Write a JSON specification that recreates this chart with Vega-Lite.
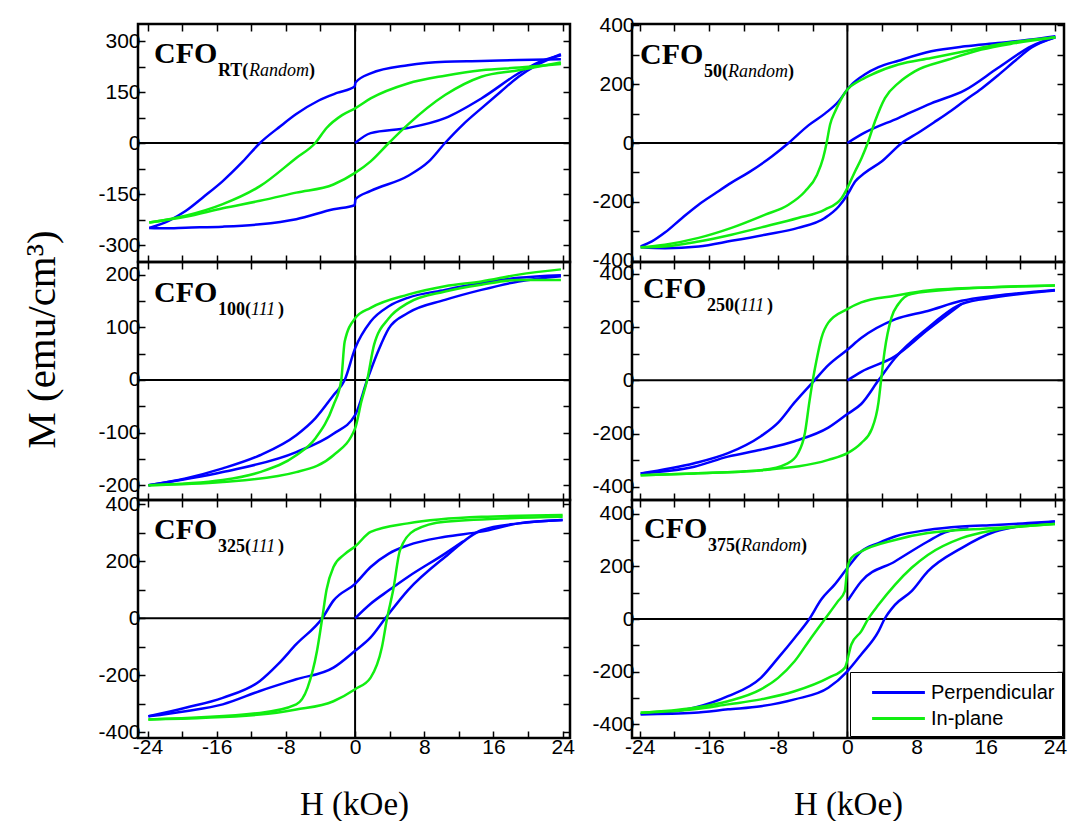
{
"$schema": "https://vega.github.io/schema/vega-lite/v6.json",
"padding": {"left": 19, "top": 13, "right": 2, "bottom": 5},
"background": "white",
"datasets": {
"d": [
{"p":1,"s":"Perpendicular","b":"d","H":23.8,"M":246},{"p":1,"s":"Perpendicular","b":"d","H":18.9,"M":244},{"p":1,"s":"Perpendicular","b":"d","H":14.6,"M":241},{"p":1,"s":"Perpendicular","b":"d","H":10.4,"M":239},{"p":1,"s":"Perpendicular","b":"d","H":6.1,"M":229},{"p":1,"s":"Perpendicular","b":"d","H":1.8,"M":205},{"p":1,"s":"Perpendicular","b":"d","H":0.05,"M":178},{"p":1,"s":"Perpendicular","b":"d","H":-0.05,"M":166},{"p":1,"s":"Perpendicular","b":"d","H":-2,"M":148},{"p":1,"s":"Perpendicular","b":"d","H":-4.2,"M":125},{"p":1,"s":"Perpendicular","b":"d","H":-6.8,"M":85},{"p":1,"s":"Perpendicular","b":"d","H":-8.6,"M":50},{"p":1,"s":"Perpendicular","b":"d","H":-11,"M":0},{"p":1,"s":"Perpendicular","b":"d","H":-13,"M":-55},{"p":1,"s":"Perpendicular","b":"d","H":-15.3,"M":-112},{"p":1,"s":"Perpendicular","b":"d","H":-17.5,"M":-158},{"p":1,"s":"Perpendicular","b":"d","H":-19.6,"M":-200},{"p":1,"s":"Perpendicular","b":"d","H":-21.5,"M":-228},{"p":1,"s":"Perpendicular","b":"d","H":-23.8,"M":-250},
{"p":1,"s":"Perpendicular","b":"a","H":-23.8,"M":-250},{"p":1,"s":"Perpendicular","b":"a","H":-22,"M":-251},{"p":1,"s":"Perpendicular","b":"a","H":-19.6,"M":-249},{"p":1,"s":"Perpendicular","b":"a","H":-15.3,"M":-246},{"p":1,"s":"Perpendicular","b":"a","H":-11,"M":-239},{"p":1,"s":"Perpendicular","b":"a","H":-6.8,"M":-224},{"p":1,"s":"Perpendicular","b":"a","H":-2.5,"M":-195},{"p":1,"s":"Perpendicular","b":"a","H":-0.05,"M":-183},{"p":1,"s":"Perpendicular","b":"a","H":0.05,"M":-165},{"p":1,"s":"Perpendicular","b":"a","H":1.8,"M":-141},{"p":1,"s":"Perpendicular","b":"a","H":6.1,"M":-97},{"p":1,"s":"Perpendicular","b":"a","H":8.5,"M":-55},{"p":1,"s":"Perpendicular","b":"a","H":10.4,"M":0},{"p":1,"s":"Perpendicular","b":"a","H":12.5,"M":55},{"p":1,"s":"Perpendicular","b":"a","H":14.6,"M":102},{"p":1,"s":"Perpendicular","b":"a","H":16.8,"M":150},{"p":1,"s":"Perpendicular","b":"a","H":18.9,"M":195},{"p":1,"s":"Perpendicular","b":"a","H":21,"M":229},{"p":1,"s":"Perpendicular","b":"a","H":23.8,"M":261},
{"p":1,"s":"Perpendicular","b":"v","H":0,"M":0},{"p":1,"s":"Perpendicular","b":"v","H":1.8,"M":29},{"p":1,"s":"Perpendicular","b":"v","H":6.1,"M":44},{"p":1,"s":"Perpendicular","b":"v","H":10.4,"M":73},{"p":1,"s":"Perpendicular","b":"v","H":14.6,"M":131},{"p":1,"s":"Perpendicular","b":"v","H":18.9,"M":205},{"p":1,"s":"Perpendicular","b":"v","H":21,"M":235},{"p":1,"s":"Perpendicular","b":"v","H":23.8,"M":258},
{"p":1,"s":"In-plane","b":"d","H":23.8,"M":232},{"p":1,"s":"In-plane","b":"d","H":19,"M":222},{"p":1,"s":"In-plane","b":"d","H":14.6,"M":214},{"p":1,"s":"In-plane","b":"d","H":10.4,"M":198},{"p":1,"s":"In-plane","b":"d","H":6.1,"M":175},{"p":1,"s":"In-plane","b":"d","H":1.8,"M":131},{"p":1,"s":"In-plane","b":"d","H":0,"M":102},{"p":1,"s":"In-plane","b":"d","H":-1.5,"M":82},{"p":1,"s":"In-plane","b":"d","H":-3.3,"M":44},{"p":1,"s":"In-plane","b":"d","H":-4.6,"M":0},{"p":1,"s":"In-plane","b":"d","H":-6.8,"M":-44},{"p":1,"s":"In-plane","b":"d","H":-11,"M":-127},{"p":1,"s":"In-plane","b":"d","H":-15.3,"M":-180},{"p":1,"s":"In-plane","b":"d","H":-19.6,"M":-214},{"p":1,"s":"In-plane","b":"d","H":-23.8,"M":-234},
{"p":1,"s":"In-plane","b":"a","H":-23.8,"M":-234},{"p":1,"s":"In-plane","b":"a","H":-19.6,"M":-217},{"p":1,"s":"In-plane","b":"a","H":-15.3,"M":-192},{"p":1,"s":"In-plane","b":"a","H":-11,"M":-170},{"p":1,"s":"In-plane","b":"a","H":-6.8,"M":-146},{"p":1,"s":"In-plane","b":"a","H":-2.5,"M":-122},{"p":1,"s":"In-plane","b":"a","H":0,"M":-88},{"p":1,"s":"In-plane","b":"a","H":1.8,"M":-54},{"p":1,"s":"In-plane","b":"a","H":3.9,"M":0},{"p":1,"s":"In-plane","b":"a","H":6.1,"M":54},{"p":1,"s":"In-plane","b":"a","H":10.4,"M":141},{"p":1,"s":"In-plane","b":"a","H":14.6,"M":195},{"p":1,"s":"In-plane","b":"a","H":18.9,"M":214},{"p":1,"s":"In-plane","b":"a","H":23.8,"M":237},

{"p":2,"s":"Perpendicular","b":"d","H":24.06,"M":363},{"p":2,"s":"Perpendicular","b":"d","H":21.3,"M":352},{"p":2,"s":"Perpendicular","b":"d","H":17.4,"M":340},{"p":2,"s":"Perpendicular","b":"d","H":13.6,"M":329},{"p":2,"s":"Perpendicular","b":"d","H":9.7,"M":312},{"p":2,"s":"Perpendicular","b":"d","H":5.9,"M":280},{"p":2,"s":"Perpendicular","b":"d","H":3.6,"M":258},{"p":2,"s":"Perpendicular","b":"d","H":2,"M":233},{"p":2,"s":"Perpendicular","b":"d","H":0.5,"M":199},{"p":2,"s":"Perpendicular","b":"d","H":0,"M":182},{"p":2,"s":"Perpendicular","b":"d","H":-1,"M":142},{"p":2,"s":"Perpendicular","b":"d","H":-2.6,"M":100},{"p":2,"s":"Perpendicular","b":"d","H":-4.5,"M":60},{"p":2,"s":"Perpendicular","b":"d","H":-6.8,"M":0},{"p":2,"s":"Perpendicular","b":"d","H":-8.7,"M":-45},{"p":2,"s":"Perpendicular","b":"d","H":-11.4,"M":-100},{"p":2,"s":"Perpendicular","b":"d","H":-13.4,"M":-135},{"p":2,"s":"Perpendicular","b":"d","H":-15.3,"M":-172},{"p":2,"s":"Perpendicular","b":"d","H":-17.2,"M":-210},{"p":2,"s":"Perpendicular","b":"d","H":-19.1,"M":-255},{"p":2,"s":"Perpendicular","b":"d","H":-21.1,"M":-305},{"p":2,"s":"Perpendicular","b":"d","H":-22.6,"M":-335},{"p":2,"s":"Perpendicular","b":"d","H":-23.9,"M":-352},
{"p":2,"s":"Perpendicular","b":"a","H":-23.9,"M":-355},{"p":2,"s":"Perpendicular","b":"a","H":-21.1,"M":-358},{"p":2,"s":"Perpendicular","b":"a","H":-17.2,"M":-352},{"p":2,"s":"Perpendicular","b":"a","H":-13.4,"M":-333},{"p":2,"s":"Perpendicular","b":"a","H":-9.5,"M":-312},{"p":2,"s":"Perpendicular","b":"a","H":-5.7,"M":-289},{"p":2,"s":"Perpendicular","b":"a","H":-2.6,"M":-255},{"p":2,"s":"Perpendicular","b":"a","H":-1,"M":-216},{"p":2,"s":"Perpendicular","b":"a","H":0,"M":-176},{"p":2,"s":"Perpendicular","b":"a","H":0.9,"M":-131},{"p":2,"s":"Perpendicular","b":"a","H":2,"M":-102},{"p":2,"s":"Perpendicular","b":"a","H":4,"M":-62},{"p":2,"s":"Perpendicular","b":"a","H":6.3,"M":0},{"p":2,"s":"Perpendicular","b":"a","H":8.2,"M":35},{"p":2,"s":"Perpendicular","b":"a","H":10,"M":70},{"p":2,"s":"Perpendicular","b":"a","H":12,"M":110},{"p":2,"s":"Perpendicular","b":"a","H":13.6,"M":145},{"p":2,"s":"Perpendicular","b":"a","H":15.5,"M":185},{"p":2,"s":"Perpendicular","b":"a","H":17.4,"M":230},{"p":2,"s":"Perpendicular","b":"a","H":19.4,"M":280},{"p":2,"s":"Perpendicular","b":"a","H":21.3,"M":325},{"p":2,"s":"Perpendicular","b":"a","H":24.06,"M":360},
{"p":2,"s":"Perpendicular","b":"v","H":0,"M":0},{"p":2,"s":"Perpendicular","b":"v","H":2,"M":35},{"p":2,"s":"Perpendicular","b":"v","H":5.9,"M":85},{"p":2,"s":"Perpendicular","b":"v","H":9.7,"M":135},{"p":2,"s":"Perpendicular","b":"v","H":13.6,"M":180},{"p":2,"s":"Perpendicular","b":"v","H":17.4,"M":255},{"p":2,"s":"Perpendicular","b":"v","H":21.3,"M":330},{"p":2,"s":"Perpendicular","b":"v","H":24,"M":360},
{"p":2,"s":"In-plane","b":"d","H":24.06,"M":360},{"p":2,"s":"In-plane","b":"d","H":17.4,"M":335},{"p":2,"s":"In-plane","b":"d","H":13.6,"M":312},{"p":2,"s":"In-plane","b":"d","H":9.7,"M":289},{"p":2,"s":"In-plane","b":"d","H":5.9,"M":267},{"p":2,"s":"In-plane","b":"d","H":2.8,"M":233},{"p":2,"s":"In-plane","b":"d","H":1.3,"M":210},{"p":2,"s":"In-plane","b":"d","H":0,"M":182},{"p":2,"s":"In-plane","b":"d","H":-0.65,"M":153},{"p":2,"s":"In-plane","b":"d","H":-1.4,"M":108},{"p":2,"s":"In-plane","b":"d","H":-2,"M":62},{"p":2,"s":"In-plane","b":"d","H":-2.4,"M":0},{"p":2,"s":"In-plane","b":"d","H":-2.8,"M":-51},{"p":2,"s":"In-plane","b":"d","H":-3.5,"M":-108},{"p":2,"s":"In-plane","b":"d","H":-4.9,"M":-165},{"p":2,"s":"In-plane","b":"d","H":-6.8,"M":-210},{"p":2,"s":"In-plane","b":"d","H":-9.5,"M":-244},{"p":2,"s":"In-plane","b":"d","H":-13.4,"M":-289},{"p":2,"s":"In-plane","b":"d","H":-17.2,"M":-323},{"p":2,"s":"In-plane","b":"d","H":-21.1,"M":-346},{"p":2,"s":"In-plane","b":"d","H":-23.9,"M":-355},
{"p":2,"s":"In-plane","b":"a","H":-23.9,"M":-355},{"p":2,"s":"In-plane","b":"a","H":-21.1,"M":-352},{"p":2,"s":"In-plane","b":"a","H":-17.2,"M":-335},{"p":2,"s":"In-plane","b":"a","H":-13.4,"M":-312},{"p":2,"s":"In-plane","b":"a","H":-9.5,"M":-284},{"p":2,"s":"In-plane","b":"a","H":-5.7,"M":-255},{"p":2,"s":"In-plane","b":"a","H":-2.6,"M":-227},{"p":2,"s":"In-plane","b":"a","H":-0.65,"M":-187},{"p":2,"s":"In-plane","b":"a","H":0,"M":-153},{"p":2,"s":"In-plane","b":"a","H":0.9,"M":-96},{"p":2,"s":"In-plane","b":"a","H":1.65,"M":-51},{"p":2,"s":"In-plane","b":"a","H":2.35,"M":0},{"p":2,"s":"In-plane","b":"a","H":3.2,"M":74},{"p":2,"s":"In-plane","b":"a","H":4.35,"M":153},{"p":2,"s":"In-plane","b":"a","H":5.9,"M":204},{"p":2,"s":"In-plane","b":"a","H":7.8,"M":244},{"p":2,"s":"In-plane","b":"a","H":11.7,"M":284},{"p":2,"s":"In-plane","b":"a","H":15.5,"M":318},{"p":2,"s":"In-plane","b":"a","H":19.4,"M":340},{"p":2,"s":"In-plane","b":"a","H":24.06,"M":360},

{"p":3,"s":"Perpendicular","b":"d","H":23.8,"M":199},{"p":3,"s":"Perpendicular","b":"d","H":18.9,"M":194},{"p":3,"s":"Perpendicular","b":"d","H":14.6,"M":184},{"p":3,"s":"Perpendicular","b":"d","H":10.4,"M":171},{"p":3,"s":"Perpendicular","b":"d","H":6.1,"M":156},{"p":3,"s":"Perpendicular","b":"d","H":3.9,"M":140},{"p":3,"s":"Perpendicular","b":"d","H":1.8,"M":111},{"p":3,"s":"Perpendicular","b":"d","H":0,"M":60},{"p":3,"s":"Perpendicular","b":"d","H":-1.2,"M":0},{"p":3,"s":"Perpendicular","b":"d","H":-2.5,"M":-29},{"p":3,"s":"Perpendicular","b":"d","H":-4.6,"M":-73},{"p":3,"s":"Perpendicular","b":"d","H":-6.8,"M":-105},{"p":3,"s":"Perpendicular","b":"d","H":-11,"M":-143},{"p":3,"s":"Perpendicular","b":"d","H":-15.3,"M":-168},{"p":3,"s":"Perpendicular","b":"d","H":-19.6,"M":-187},{"p":3,"s":"Perpendicular","b":"d","H":-23.9,"M":-200},
{"p":3,"s":"Perpendicular","b":"a","H":-23.9,"M":-200},{"p":3,"s":"Perpendicular","b":"a","H":-15.3,"M":-175},{"p":3,"s":"Perpendicular","b":"a","H":-6.8,"M":-137},{"p":3,"s":"Perpendicular","b":"a","H":-2.5,"M":-102},{"p":3,"s":"Perpendicular","b":"a","H":0,"M":-67},{"p":3,"s":"Perpendicular","b":"a","H":1.4,"M":0},{"p":3,"s":"Perpendicular","b":"a","H":2.65,"M":54},{"p":3,"s":"Perpendicular","b":"a","H":3.9,"M":98},{"p":3,"s":"Perpendicular","b":"a","H":6.1,"M":127},{"p":3,"s":"Perpendicular","b":"a","H":10.4,"M":152},{"p":3,"s":"Perpendicular","b":"a","H":14.6,"M":171},{"p":3,"s":"Perpendicular","b":"a","H":18.9,"M":187},{"p":3,"s":"Perpendicular","b":"a","H":23.8,"M":197},
{"p":3,"s":"In-plane","b":"d","H":23.8,"M":210},{"p":3,"s":"In-plane","b":"d","H":18.9,"M":200},{"p":3,"s":"In-plane","b":"d","H":14.6,"M":187},{"p":3,"s":"In-plane","b":"d","H":10.4,"M":178},{"p":3,"s":"In-plane","b":"d","H":6.1,"M":162},{"p":3,"s":"In-plane","b":"d","H":1.8,"M":137},{"p":3,"s":"In-plane","b":"d","H":0,"M":117},{"p":3,"s":"In-plane","b":"d","H":-1.2,"M":73},{"p":3,"s":"In-plane","b":"d","H":-1.6,"M":0},{"p":3,"s":"In-plane","b":"d","H":-2.5,"M":-48},{"p":3,"s":"In-plane","b":"d","H":-4.6,"M":-111},{"p":3,"s":"In-plane","b":"d","H":-6.8,"M":-143},{"p":3,"s":"In-plane","b":"d","H":-11,"M":-175},{"p":3,"s":"In-plane","b":"d","H":-15.3,"M":-190},{"p":3,"s":"In-plane","b":"d","H":-23.9,"M":-200},
{"p":3,"s":"In-plane","b":"a","H":-23.9,"M":-200},{"p":3,"s":"In-plane","b":"a","H":-15.3,"M":-194},{"p":3,"s":"In-plane","b":"a","H":-6.8,"M":-175},{"p":3,"s":"In-plane","b":"a","H":-2.5,"M":-143},{"p":3,"s":"In-plane","b":"a","H":0,"M":-92},{"p":3,"s":"In-plane","b":"a","H":0.73,"M":-41},{"p":3,"s":"In-plane","b":"a","H":1.4,"M":0},{"p":3,"s":"In-plane","b":"a","H":2.2,"M":67},{"p":3,"s":"In-plane","b":"a","H":3.9,"M":117},{"p":3,"s":"In-plane","b":"a","H":6.1,"M":146},{"p":3,"s":"In-plane","b":"a","H":10.4,"M":168},{"p":3,"s":"In-plane","b":"a","H":14.6,"M":181},{"p":3,"s":"In-plane","b":"a","H":18.9,"M":190},{"p":3,"s":"In-plane","b":"a","H":23.8,"M":190},

{"p":4,"s":"Perpendicular","b":"d","H":24,"M":340},{"p":4,"s":"Perpendicular","b":"d","H":17.1,"M":318},{"p":4,"s":"Perpendicular","b":"d","H":13.2,"M":299},{"p":4,"s":"Perpendicular","b":"d","H":9.3,"M":261},{"p":4,"s":"Perpendicular","b":"d","H":5.5,"M":229},{"p":4,"s":"Perpendicular","b":"d","H":1.6,"M":159},{"p":4,"s":"Perpendicular","b":"d","H":0,"M":115},{"p":4,"s":"Perpendicular","b":"d","H":-2.2,"M":57},{"p":4,"s":"Perpendicular","b":"d","H":-3.8,"M":0},{"p":4,"s":"Perpendicular","b":"d","H":-6.1,"M":-83},{"p":4,"s":"Perpendicular","b":"d","H":-8,"M":-159},{"p":4,"s":"Perpendicular","b":"d","H":-10,"M":-210},{"p":4,"s":"Perpendicular","b":"d","H":-13.8,"M":-274},{"p":4,"s":"Perpendicular","b":"d","H":-17.7,"M":-312},{"p":4,"s":"Perpendicular","b":"d","H":-23.9,"M":-350},
{"p":4,"s":"Perpendicular","b":"a","H":-23.9,"M":-350},{"p":4,"s":"Perpendicular","b":"a","H":-17.7,"M":-325},{"p":4,"s":"Perpendicular","b":"a","H":-13.8,"M":-287},{"p":4,"s":"Perpendicular","b":"a","H":-10,"M":-261},{"p":4,"s":"Perpendicular","b":"a","H":-6.1,"M":-229},{"p":4,"s":"Perpendicular","b":"a","H":-2.2,"M":-178},{"p":4,"s":"Perpendicular","b":"a","H":0,"M":-127},{"p":4,"s":"Perpendicular","b":"a","H":1.6,"M":-89},{"p":4,"s":"Perpendicular","b":"a","H":3.6,"M":0},{"p":4,"s":"Perpendicular","b":"a","H":5.5,"M":83},{"p":4,"s":"Perpendicular","b":"a","H":9.3,"M":197},{"p":4,"s":"Perpendicular","b":"a","H":13.2,"M":287},{"p":4,"s":"Perpendicular","b":"a","H":17.1,"M":312},{"p":4,"s":"Perpendicular","b":"a","H":24,"M":338},
{"p":4,"s":"Perpendicular","b":"v","H":0,"M":0},{"p":4,"s":"Perpendicular","b":"v","H":1.6,"M":32},{"p":4,"s":"Perpendicular","b":"v","H":5.5,"M":90},{"p":4,"s":"Perpendicular","b":"v","H":9.3,"M":190},{"p":4,"s":"Perpendicular","b":"v","H":13.2,"M":287},
{"p":4,"s":"In-plane","b":"d","H":24,"M":357},{"p":4,"s":"In-plane","b":"d","H":17.1,"M":350},{"p":4,"s":"In-plane","b":"d","H":9.3,"M":338},{"p":4,"s":"In-plane","b":"d","H":5.5,"M":318},{"p":4,"s":"In-plane","b":"d","H":1.6,"M":293},{"p":4,"s":"In-plane","b":"d","H":0,"M":268},{"p":4,"s":"In-plane","b":"d","H":-2.2,"M":217},{"p":4,"s":"In-plane","b":"d","H":-3,"M":159},{"p":4,"s":"In-plane","b":"d","H":-3.6,"M":70},{"p":4,"s":"In-plane","b":"d","H":-4,"M":0},{"p":4,"s":"In-plane","b":"d","H":-4.4,"M":-83},{"p":4,"s":"In-plane","b":"d","H":-4.9,"M":-197},{"p":4,"s":"In-plane","b":"d","H":-5.7,"M":-274},{"p":4,"s":"In-plane","b":"d","H":-6.9,"M":-312},{"p":4,"s":"In-plane","b":"d","H":-10,"M":-338},{"p":4,"s":"In-plane","b":"d","H":-17.7,"M":-350},{"p":4,"s":"In-plane","b":"d","H":-23.9,"M":-357},
{"p":4,"s":"In-plane","b":"a","H":-23.9,"M":-357},{"p":4,"s":"In-plane","b":"a","H":-17.7,"M":-350},{"p":4,"s":"In-plane","b":"a","H":-10,"M":-338},{"p":4,"s":"In-plane","b":"a","H":-2.2,"M":-299},{"p":4,"s":"In-plane","b":"a","H":0,"M":-274},{"p":4,"s":"In-plane","b":"a","H":1.6,"M":-236},{"p":4,"s":"In-plane","b":"a","H":2.8,"M":-185},{"p":4,"s":"In-plane","b":"a","H":3.6,"M":-83},{"p":4,"s":"In-plane","b":"a","H":3.9,"M":0},{"p":4,"s":"In-plane","b":"a","H":4.3,"M":108},{"p":4,"s":"In-plane","b":"a","H":5.1,"M":236},{"p":4,"s":"In-plane","b":"a","H":5.9,"M":287},{"p":4,"s":"In-plane","b":"a","H":7.4,"M":325},{"p":4,"s":"In-plane","b":"a","H":13.2,"M":344},{"p":4,"s":"In-plane","b":"a","H":24,"M":357},

{"p":5,"s":"Perpendicular","b":"d","H":24,"M":345},{"p":5,"s":"Perpendicular","b":"d","H":18.9,"M":333},{"p":5,"s":"Perpendicular","b":"d","H":14.6,"M":304},{"p":5,"s":"Perpendicular","b":"d","H":10.4,"M":286},{"p":5,"s":"Perpendicular","b":"d","H":6.1,"M":256},{"p":5,"s":"Perpendicular","b":"d","H":3.9,"M":227},{"p":5,"s":"Perpendicular","b":"d","H":1.8,"M":180},{"p":5,"s":"Perpendicular","b":"d","H":0,"M":121},{"p":5,"s":"Perpendicular","b":"d","H":-2.5,"M":62},{"p":5,"s":"Perpendicular","b":"d","H":-3.8,"M":0},{"p":5,"s":"Perpendicular","b":"d","H":-6.8,"M":-91},{"p":5,"s":"Perpendicular","b":"d","H":-8.9,"M":-161},{"p":5,"s":"Perpendicular","b":"d","H":-11,"M":-220},{"p":5,"s":"Perpendicular","b":"d","H":-15.3,"M":-279},{"p":5,"s":"Perpendicular","b":"d","H":-19.6,"M":-314},{"p":5,"s":"Perpendicular","b":"d","H":-23.9,"M":-344},
{"p":5,"s":"Perpendicular","b":"a","H":-23.9,"M":-344},{"p":5,"s":"Perpendicular","b":"a","H":-19.6,"M":-326},{"p":5,"s":"Perpendicular","b":"a","H":-15.3,"M":-302},{"p":5,"s":"Perpendicular","b":"a","H":-11,"M":-255},{"p":5,"s":"Perpendicular","b":"a","H":-6.8,"M":-214},{"p":5,"s":"Perpendicular","b":"a","H":-2.5,"M":-173},{"p":5,"s":"Perpendicular","b":"a","H":0,"M":-114},{"p":5,"s":"Perpendicular","b":"a","H":1.8,"M":-67},{"p":5,"s":"Perpendicular","b":"a","H":3.5,"M":0},{"p":5,"s":"Perpendicular","b":"a","H":6.1,"M":98},{"p":5,"s":"Perpendicular","b":"a","H":10.4,"M":215},{"p":5,"s":"Perpendicular","b":"a","H":14.6,"M":309},{"p":5,"s":"Perpendicular","b":"a","H":18.9,"M":333},{"p":5,"s":"Perpendicular","b":"a","H":24,"M":345},
{"p":5,"s":"Perpendicular","b":"v","H":0,"M":0},{"p":5,"s":"Perpendicular","b":"v","H":1.8,"M":51},{"p":5,"s":"Perpendicular","b":"v","H":3.9,"M":98},{"p":5,"s":"Perpendicular","b":"v","H":6.1,"M":145},{"p":5,"s":"Perpendicular","b":"v","H":10.4,"M":227},{"p":5,"s":"Perpendicular","b":"v","H":12.5,"M":270},
{"p":5,"s":"In-plane","b":"d","H":24,"M":362},{"p":5,"s":"In-plane","b":"d","H":14.6,"M":356},{"p":5,"s":"In-plane","b":"d","H":6.1,"M":333},{"p":5,"s":"In-plane","b":"d","H":1.8,"M":303},{"p":5,"s":"In-plane","b":"d","H":0,"M":252},{"p":5,"s":"In-plane","b":"d","H":-1.2,"M":225},{"p":5,"s":"In-plane","b":"d","H":-2.5,"M":180},{"p":5,"s":"In-plane","b":"d","H":-3.3,"M":100},{"p":5,"s":"In-plane","b":"d","H":-3.8,"M":0},{"p":5,"s":"In-plane","b":"d","H":-4.4,"M":-114},{"p":5,"s":"In-plane","b":"d","H":-5.5,"M":-244},{"p":5,"s":"In-plane","b":"d","H":-6.8,"M":-302},{"p":5,"s":"In-plane","b":"d","H":-11,"M":-332},{"p":5,"s":"In-plane","b":"d","H":-23.9,"M":-355},
{"p":5,"s":"In-plane","b":"a","H":-23.9,"M":-355},{"p":5,"s":"In-plane","b":"a","H":-11,"M":-338},{"p":5,"s":"In-plane","b":"a","H":-6.8,"M":-320},{"p":5,"s":"In-plane","b":"a","H":-2.5,"M":-291},{"p":5,"s":"In-plane","b":"a","H":0,"M":-249},{"p":5,"s":"In-plane","b":"a","H":1.8,"M":-208},{"p":5,"s":"In-plane","b":"a","H":3.1,"M":-102},{"p":5,"s":"In-plane","b":"a","H":3.7,"M":0},{"p":5,"s":"In-plane","b":"a","H":4.4,"M":98},{"p":5,"s":"In-plane","b":"a","H":5.2,"M":239},{"p":5,"s":"In-plane","b":"a","H":6.9,"M":309},{"p":5,"s":"In-plane","b":"a","H":10.4,"M":339},{"p":5,"s":"In-plane","b":"a","H":24,"M":356},

{"p":6,"s":"Perpendicular","b":"d","H":24,"M":371},{"p":6,"s":"Perpendicular","b":"d","H":20.9,"M":365},{"p":6,"s":"Perpendicular","b":"d","H":17.1,"M":358},{"p":6,"s":"Perpendicular","b":"d","H":13.2,"M":352},{"p":6,"s":"Perpendicular","b":"d","H":9.3,"M":339},{"p":6,"s":"Perpendicular","b":"d","H":5.5,"M":314},{"p":6,"s":"Perpendicular","b":"d","H":3.6,"M":289},{"p":6,"s":"Perpendicular","b":"d","H":1.6,"M":257},{"p":6,"s":"Perpendicular","b":"d","H":0,"M":194},{"p":6,"s":"Perpendicular","b":"d","H":-1.5,"M":130},{"p":6,"s":"Perpendicular","b":"d","H":-3,"M":75},{"p":6,"s":"Perpendicular","b":"d","H":-4.4,"M":0},{"p":6,"s":"Perpendicular","b":"d","H":-6.1,"M":-72},{"p":6,"s":"Perpendicular","b":"d","H":-8,"M":-148},{"p":6,"s":"Perpendicular","b":"d","H":-10,"M":-224},{"p":6,"s":"Perpendicular","b":"d","H":-13.8,"M":-294},{"p":6,"s":"Perpendicular","b":"d","H":-17.7,"M":-338},{"p":6,"s":"Perpendicular","b":"d","H":-23.9,"M":-363},
{"p":6,"s":"Perpendicular","b":"a","H":-23.9,"M":-363},{"p":6,"s":"Perpendicular","b":"a","H":-17.7,"M":-357},{"p":6,"s":"Perpendicular","b":"a","H":-13.8,"M":-344},{"p":6,"s":"Perpendicular","b":"a","H":-10,"M":-332},{"p":6,"s":"Perpendicular","b":"a","H":-6.1,"M":-306},{"p":6,"s":"Perpendicular","b":"a","H":-2.2,"M":-262},{"p":6,"s":"Perpendicular","b":"a","H":0,"M":-199},{"p":6,"s":"Perpendicular","b":"a","H":1.6,"M":-135},{"p":6,"s":"Perpendicular","b":"a","H":3.6,"M":-47},{"p":6,"s":"Perpendicular","b":"a","H":4.3,"M":0},{"p":6,"s":"Perpendicular","b":"a","H":5.5,"M":54},{"p":6,"s":"Perpendicular","b":"a","H":7.4,"M":105},{"p":6,"s":"Perpendicular","b":"a","H":9.3,"M":181},{"p":6,"s":"Perpendicular","b":"a","H":13.2,"M":270},{"p":6,"s":"Perpendicular","b":"a","H":17.1,"M":333},{"p":6,"s":"Perpendicular","b":"a","H":20.9,"M":358},{"p":6,"s":"Perpendicular","b":"a","H":24,"M":371},
{"p":6,"s":"Perpendicular","b":"v","H":0.05,"M":70},{"p":6,"s":"Perpendicular","b":"v","H":1.6,"M":143},{"p":6,"s":"Perpendicular","b":"v","H":5.5,"M":219},{"p":6,"s":"Perpendicular","b":"v","H":9.3,"M":295},{"p":6,"s":"Perpendicular","b":"v","H":11.3,"M":330},{"p":6,"s":"Perpendicular","b":"v","H":14,"M":345},
{"p":6,"s":"In-plane","b":"d","H":24,"M":362},{"p":6,"s":"In-plane","b":"d","H":17.1,"M":346},{"p":6,"s":"In-plane","b":"d","H":9.3,"M":327},{"p":6,"s":"In-plane","b":"d","H":5.5,"M":301},{"p":6,"s":"In-plane","b":"d","H":1.6,"M":257},{"p":6,"s":"In-plane","b":"d","H":0.46,"M":232},{"p":6,"s":"In-plane","b":"d","H":0,"M":194},{"p":6,"s":"In-plane","b":"d","H":-0.3,"M":105},{"p":6,"s":"In-plane","b":"d","H":-1.1,"M":67},{"p":6,"s":"In-plane","b":"d","H":-2.6,"M":0},{"p":6,"s":"In-plane","b":"d","H":-4.2,"M":-72},{"p":6,"s":"In-plane","b":"d","H":-6.1,"M":-161},{"p":6,"s":"In-plane","b":"d","H":-8,"M":-224},{"p":6,"s":"In-plane","b":"d","H":-10,"M":-268},{"p":6,"s":"In-plane","b":"d","H":-13.8,"M":-313},{"p":6,"s":"In-plane","b":"d","H":-17.7,"M":-338},{"p":6,"s":"In-plane","b":"d","H":-23.9,"M":-357},
{"p":6,"s":"In-plane","b":"a","H":-23.9,"M":-357},{"p":6,"s":"In-plane","b":"a","H":-17.7,"M":-344},{"p":6,"s":"In-plane","b":"a","H":-13.8,"M":-325},{"p":6,"s":"In-plane","b":"a","H":-10,"M":-306},{"p":6,"s":"In-plane","b":"a","H":-6.1,"M":-275},{"p":6,"s":"In-plane","b":"a","H":-2.2,"M":-224},{"p":6,"s":"In-plane","b":"a","H":-0.3,"M":-186},{"p":6,"s":"In-plane","b":"a","H":0.46,"M":-97},{"p":6,"s":"In-plane","b":"a","H":1.6,"M":-47},{"p":6,"s":"In-plane","b":"a","H":2.4,"M":0},{"p":6,"s":"In-plane","b":"a","H":3.6,"M":54},{"p":6,"s":"In-plane","b":"a","H":5.5,"M":130},{"p":6,"s":"In-plane","b":"a","H":7.4,"M":194},{"p":6,"s":"In-plane","b":"a","H":9.3,"M":244},{"p":6,"s":"In-plane","b":"a","H":13.2,"M":308},{"p":6,"s":"In-plane","b":"a","H":17.1,"M":339},{"p":6,"s":"In-plane","b":"a","H":24,"M":362}
]
},
"hconcat": [
{
"vconcat": [
{
"width": 432, "height": 238,
"layer": [
{"data": {"values": [{"z": 0}]}, "mark": {"type": "rule", "color": "black", "strokeWidth": 2}, "encoding": {"x": {"field": "z", "type": "quantitative", "scale": {"domain": [-25.1, 24.85], "nice": false, "zero": false}, "axis": {"orient": "top", "values": [-24,-20,-16,-12,-8,-4,0,4,8,12,16,20,24], "labels": false, "title": null}}}},
{"data": {"values": [{"z": 0}]}, "mark": {"type": "rule", "color": "black", "strokeWidth": 2}, "encoding": {"y": {"field": "z", "type": "quantitative", "scale": {"domain": [-350, 350], "nice": false, "zero": false}, "axis": {"orient": "right", "values": [-300,-225,-150,-75,0,75,150,225,300], "labels": false, "title": null}}}},
{"data": {"name": "d"}, "transform": [{"filter": "datum.p == 1"}], "mark": {"type": "line", "strokeWidth": 2.5, "clip": true, "interpolate": "monotone"}, "encoding": {
"x": {"field": "H", "type": "quantitative", "scale": {"domain": [-25.1, 24.85], "nice": false, "zero": false}, "axis": {"orient": "bottom", "values": [-24,-20,-16,-12,-8,-4,0,4,8,12,16,20,24], "labels": false, "title": null}},
"y": {"field": "M", "type": "quantitative", "scale": {"domain": [-350, 350], "nice": false, "zero": false}, "axis": {"orient": "left", "values": [-300,-225,-150,-75,0,75,150,225,300], "labelExpr": "datum.value % 150 === 0 ? '' + datum.value : ''", "title": null}},
"color": {"field": "s", "type": "nominal", "scale": {"domain": ["Perpendicular", "In-plane"], "range": ["#0000ff", "#11ee11"]}, "legend": null},
"detail": {"field": "b"}}},
{"data": {"values": [{"t": "CFO"}]}, "mark": {"type": "text", "font": "Liberation Serif", "fontWeight": "bold", "fontSize": 30, "align": "left", "baseline": "alphabetic", "color": "black"}, "encoding": {"x": {"datum": -23.25, "type": "quantitative", "scale": {"domain": [-25.1, 24.85], "nice": false, "zero": false}, "axis": null}, "y": {"datum": 235, "type": "quantitative", "scale": {"domain": [-350, 350], "nice": false, "zero": false}, "axis": null}, "text": {"field": "t"}}},
{"data": {"values": [{"t": "RT("}]}, "mark": {"type": "text", "font": "Liberation Serif", "fontWeight": "bold", "fontSize": 18, "align": "left", "baseline": "alphabetic", "color": "black", "dx": 64, "dy": 13}, "encoding": {"x": {"datum": -23.25, "type": "quantitative", "scale": {"domain": [-25.1, 24.85], "nice": false, "zero": false}, "axis": null}, "y": {"datum": 235, "type": "quantitative", "scale": {"domain": [-350, 350], "nice": false, "zero": false}, "axis": null}, "text": {"field": "t"}}},
{"data": {"values": [{"t": "Random"}]}, "mark": {"type": "text", "font": "Liberation Serif", "fontStyle": "italic", "fontSize": 18, "align": "left", "baseline": "alphabetic", "color": "black", "dx": 95, "dy": 13}, "encoding": {"x": {"datum": -23.25, "type": "quantitative", "scale": {"domain": [-25.1, 24.85], "nice": false, "zero": false}, "axis": null}, "y": {"datum": 235, "type": "quantitative", "scale": {"domain": [-350, 350], "nice": false, "zero": false}, "axis": null}, "text": {"field": "t"}}},
{"data": {"values": [{"t": ")"}]}, "mark": {"type": "text", "font": "Liberation Serif", "fontWeight": "bold", "fontSize": 18, "align": "left", "baseline": "alphabetic", "color": "black", "dx": 155, "dy": 13}, "encoding": {"x": {"datum": -23.25, "type": "quantitative", "scale": {"domain": [-25.1, 24.85], "nice": false, "zero": false}, "axis": null}, "y": {"datum": 235, "type": "quantitative", "scale": {"domain": [-350, 350], "nice": false, "zero": false}, "axis": null}, "text": {"field": "t"}}}
],
"resolve": {"axis": {"x": "independent", "y": "independent"}}
},
{
"width": 432, "height": 238,
"layer": [
{"data": {"values": [{"z": 0}]}, "mark": {"type": "rule", "color": "black", "strokeWidth": 2}, "encoding": {"x": {"field": "z", "type": "quantitative", "scale": {"domain": [-25.1, 24.85], "nice": false, "zero": false}, "axis": {"orient": "top", "values": [-24,-20,-16,-12,-8,-4,0,4,8,12,16,20,24], "labels": false, "title": null}}}},
{"data": {"values": [{"z": 0}]}, "mark": {"type": "rule", "color": "black", "strokeWidth": 2}, "encoding": {"y": {"field": "z", "type": "quantitative", "scale": {"domain": [-228, 224], "nice": false, "zero": false}, "axis": {"orient": "right", "values": [-200,-150,-100,-50,0,50,100,150,200], "labels": false, "title": null}}}},
{"data": {"name": "d"}, "transform": [{"filter": "datum.p == 3"}], "mark": {"type": "line", "strokeWidth": 2.5, "clip": true, "interpolate": "monotone"}, "encoding": {
"x": {"field": "H", "type": "quantitative", "scale": {"domain": [-25.1, 24.85], "nice": false, "zero": false}, "axis": {"orient": "bottom", "values": [-24,-20,-16,-12,-8,-4,0,4,8,12,16,20,24], "labels": false, "title": null}},
"y": {"field": "M", "type": "quantitative", "scale": {"domain": [-228, 224], "nice": false, "zero": false}, "axis": {"orient": "left", "values": [-200,-150,-100,-50,0,50,100,150,200], "labelExpr": "datum.value % 100 === 0 ? '' + datum.value : ''", "title": "M (emu/cm³)", "titleFont": "Liberation Serif", "titleFontSize": 41, "titleFontWeight": "normal", "titleX": -84, "titleY": 77, "titleBaseline": "alphabetic", "titleAlign": "center", "titleAngle": -90}},
"color": {"field": "s", "type": "nominal", "scale": {"domain": ["Perpendicular", "In-plane"], "range": ["#0000ff", "#11ee11"]}, "legend": null},
"detail": {"field": "b"}}},
{"data": {"values": [{"t": "CFO"}]}, "mark": {"type": "text", "font": "Liberation Serif", "fontWeight": "bold", "fontSize": 30, "align": "left", "baseline": "alphabetic", "color": "black"}, "encoding": {"x": {"datum": -23.25, "type": "quantitative", "scale": {"domain": [-25.1, 24.85], "nice": false, "zero": false}, "axis": null}, "y": {"datum": 148, "type": "quantitative", "scale": {"domain": [-228, 224], "nice": false, "zero": false}, "axis": null}, "text": {"field": "t"}}},
{"data": {"values": [{"t": "100("}]}, "mark": {"type": "text", "font": "Liberation Serif", "fontWeight": "bold", "fontSize": 18, "align": "left", "baseline": "alphabetic", "color": "black", "dx": 64, "dy": 13}, "encoding": {"x": {"datum": -23.25, "type": "quantitative", "scale": {"domain": [-25.1, 24.85], "nice": false, "zero": false}, "axis": null}, "y": {"datum": 148, "type": "quantitative", "scale": {"domain": [-228, 224], "nice": false, "zero": false}, "axis": null}, "text": {"field": "t"}}},
{"data": {"values": [{"t": "111"}]}, "mark": {"type": "text", "font": "Liberation Serif", "fontStyle": "italic", "fontSize": 18, "align": "left", "baseline": "alphabetic", "color": "black", "dx": 97, "dy": 13}, "encoding": {"x": {"datum": -23.25, "type": "quantitative", "scale": {"domain": [-25.1, 24.85], "nice": false, "zero": false}, "axis": null}, "y": {"datum": 148, "type": "quantitative", "scale": {"domain": [-228, 224], "nice": false, "zero": false}, "axis": null}, "text": {"field": "t"}}},
{"data": {"values": [{"t": ")"}]}, "mark": {"type": "text", "font": "Liberation Serif", "fontWeight": "bold", "fontSize": 18, "align": "left", "baseline": "alphabetic", "color": "black", "dx": 124, "dy": 13}, "encoding": {"x": {"datum": -23.25, "type": "quantitative", "scale": {"domain": [-25.1, 24.85], "nice": false, "zero": false}, "axis": null}, "y": {"datum": 148, "type": "quantitative", "scale": {"domain": [-228, 224], "nice": false, "zero": false}, "axis": null}, "text": {"field": "t"}}}
],
"resolve": {"axis": {"x": "independent", "y": "independent"}}
},
{
"width": 432, "height": 238,
"layer": [
{"data": {"values": [{"z": 0}]}, "mark": {"type": "rule", "color": "black", "strokeWidth": 2}, "encoding": {"x": {"field": "z", "type": "quantitative", "scale": {"domain": [-25.1, 24.85], "nice": false, "zero": false}, "axis": {"orient": "top", "values": [-24,-20,-16,-12,-8,-4,0,4,8,12,16,20,24], "labels": false, "title": null}}}},
{"data": {"values": [{"z": 0}]}, "mark": {"type": "rule", "color": "black", "strokeWidth": 2}, "encoding": {"y": {"field": "z", "type": "quantitative", "scale": {"domain": [-420, 415], "nice": false, "zero": false}, "axis": {"orient": "right", "values": [-400,-300,-200,-100,0,100,200,300,400], "labels": false, "title": null}}}},
{"data": {"name": "d"}, "transform": [{"filter": "datum.p == 5"}], "mark": {"type": "line", "strokeWidth": 2.5, "clip": true, "interpolate": "monotone"}, "encoding": {
"x": {"field": "H", "type": "quantitative", "scale": {"domain": [-25.1, 24.85], "nice": false, "zero": false}, "axis": {"orient": "bottom", "values": [-24,-20,-16,-12,-8,-4,0,4,8,12,16,20,24], "labelExpr": "datum.value % 8 === 0 ? '' + datum.value : ''", "title": "H (kOe)", "titleFont": "Liberation Serif", "titleFontSize": 33, "titleFontWeight": "normal", "titleY": 76, "titleBaseline": "alphabetic"}},
"y": {"field": "M", "type": "quantitative", "scale": {"domain": [-420, 415], "nice": false, "zero": false}, "axis": {"orient": "left", "values": [-400,-300,-200,-100,0,100,200,300,400], "labelExpr": "datum.value % 200 === 0 ? '' + datum.value : ''", "title": null}},
"color": {"field": "s", "type": "nominal", "scale": {"domain": ["Perpendicular", "In-plane"], "range": ["#0000ff", "#11ee11"]}, "legend": null},
"detail": {"field": "b"}}},
{"data": {"values": [{"t": "CFO"}]}, "mark": {"type": "text", "font": "Liberation Serif", "fontWeight": "bold", "fontSize": 30, "align": "left", "baseline": "alphabetic", "color": "black"}, "encoding": {"x": {"datum": -23.25, "type": "quantitative", "scale": {"domain": [-25.1, 24.85], "nice": false, "zero": false}, "axis": null}, "y": {"datum": 278, "type": "quantitative", "scale": {"domain": [-420, 415], "nice": false, "zero": false}, "axis": null}, "text": {"field": "t"}}},
{"data": {"values": [{"t": "325("}]}, "mark": {"type": "text", "font": "Liberation Serif", "fontWeight": "bold", "fontSize": 18, "align": "left", "baseline": "alphabetic", "color": "black", "dx": 64, "dy": 13}, "encoding": {"x": {"datum": -23.25, "type": "quantitative", "scale": {"domain": [-25.1, 24.85], "nice": false, "zero": false}, "axis": null}, "y": {"datum": 278, "type": "quantitative", "scale": {"domain": [-420, 415], "nice": false, "zero": false}, "axis": null}, "text": {"field": "t"}}},
{"data": {"values": [{"t": "111"}]}, "mark": {"type": "text", "font": "Liberation Serif", "fontStyle": "italic", "fontSize": 18, "align": "left", "baseline": "alphabetic", "color": "black", "dx": 97, "dy": 13}, "encoding": {"x": {"datum": -23.25, "type": "quantitative", "scale": {"domain": [-25.1, 24.85], "nice": false, "zero": false}, "axis": null}, "y": {"datum": 278, "type": "quantitative", "scale": {"domain": [-420, 415], "nice": false, "zero": false}, "axis": null}, "text": {"field": "t"}}},
{"data": {"values": [{"t": ")"}]}, "mark": {"type": "text", "font": "Liberation Serif", "fontWeight": "bold", "fontSize": 18, "align": "left", "baseline": "alphabetic", "color": "black", "dx": 124, "dy": 13}, "encoding": {"x": {"datum": -23.25, "type": "quantitative", "scale": {"domain": [-25.1, 24.85], "nice": false, "zero": false}, "axis": null}, "y": {"datum": 278, "type": "quantitative", "scale": {"domain": [-420, 415], "nice": false, "zero": false}, "axis": null}, "text": {"field": "t"}}}
],
"resolve": {"axis": {"x": "independent", "y": "independent"}}
}
],
"spacing": 0, "bounds": "flush",
"resolve": {"scale": {"color": "independent"}, "legend": {"color": "independent"}}
},
{
"vconcat": [
{
"width": 432, "height": 238,
"layer": [
{"data": {"values": [{"z": 0}]}, "mark": {"type": "rule", "color": "black", "strokeWidth": 2}, "encoding": {"x": {"field": "z", "type": "quantitative", "scale": {"domain": [-24.9, 25.05], "nice": false, "zero": false}, "axis": {"orient": "top", "values": [-24,-20,-16,-12,-8,-4,0,4,8,12,16,20,24], "labels": false, "title": null}}}},
{"data": {"values": [{"z": 0}]}, "mark": {"type": "rule", "color": "black", "strokeWidth": 2}, "encoding": {"y": {"field": "z", "type": "quantitative", "scale": {"domain": [-405, 405], "nice": false, "zero": false}, "axis": {"orient": "right", "values": [-400,-300,-200,-100,0,100,200,300,400], "labels": false, "title": null}}}},
{"data": {"name": "d"}, "transform": [{"filter": "datum.p == 2"}], "mark": {"type": "line", "strokeWidth": 2.5, "clip": true, "interpolate": "monotone"}, "encoding": {
"x": {"field": "H", "type": "quantitative", "scale": {"domain": [-24.9, 25.05], "nice": false, "zero": false}, "axis": {"orient": "bottom", "values": [-24,-20,-16,-12,-8,-4,0,4,8,12,16,20,24], "labels": false, "title": null}},
"y": {"field": "M", "type": "quantitative", "scale": {"domain": [-405, 405], "nice": false, "zero": false}, "axis": {"orient": "left", "values": [-400,-300,-200,-100,0,100,200,300,400], "labelExpr": "datum.value % 200 === 0 ? '' + datum.value : ''", "title": null}},
"color": {"field": "s", "type": "nominal", "scale": {"domain": ["Perpendicular", "In-plane"], "range": ["#0000ff", "#11ee11"]}, "legend": null},
"detail": {"field": "b"}}},
{"data": {"values": [{"t": "CFO"}]}, "mark": {"type": "text", "font": "Liberation Serif", "fontWeight": "bold", "fontSize": 30, "align": "left", "baseline": "alphabetic", "color": "black"}, "encoding": {"x": {"datum": -23.97, "type": "quantitative", "scale": {"domain": [-24.9, 25.05], "nice": false, "zero": false}, "axis": null}, "y": {"datum": 268, "type": "quantitative", "scale": {"domain": [-405, 405], "nice": false, "zero": false}, "axis": null}, "text": {"field": "t"}}},
{"data": {"values": [{"t": "50("}]}, "mark": {"type": "text", "font": "Liberation Serif", "fontWeight": "bold", "fontSize": 18, "align": "left", "baseline": "alphabetic", "color": "black", "dx": 64, "dy": 13}, "encoding": {"x": {"datum": -23.97, "type": "quantitative", "scale": {"domain": [-24.9, 25.05], "nice": false, "zero": false}, "axis": null}, "y": {"datum": 268, "type": "quantitative", "scale": {"domain": [-405, 405], "nice": false, "zero": false}, "axis": null}, "text": {"field": "t"}}},
{"data": {"values": [{"t": "Random"}]}, "mark": {"type": "text", "font": "Liberation Serif", "fontStyle": "italic", "fontSize": 18, "align": "left", "baseline": "alphabetic", "color": "black", "dx": 88, "dy": 13}, "encoding": {"x": {"datum": -23.97, "type": "quantitative", "scale": {"domain": [-24.9, 25.05], "nice": false, "zero": false}, "axis": null}, "y": {"datum": 268, "type": "quantitative", "scale": {"domain": [-405, 405], "nice": false, "zero": false}, "axis": null}, "text": {"field": "t"}}},
{"data": {"values": [{"t": ")"}]}, "mark": {"type": "text", "font": "Liberation Serif", "fontWeight": "bold", "fontSize": 18, "align": "left", "baseline": "alphabetic", "color": "black", "dx": 148, "dy": 13}, "encoding": {"x": {"datum": -23.97, "type": "quantitative", "scale": {"domain": [-24.9, 25.05], "nice": false, "zero": false}, "axis": null}, "y": {"datum": 268, "type": "quantitative", "scale": {"domain": [-405, 405], "nice": false, "zero": false}, "axis": null}, "text": {"field": "t"}}}
],
"resolve": {"axis": {"x": "independent", "y": "independent"}}
},
{
"width": 432, "height": 238,
"layer": [
{"data": {"values": [{"z": 0}]}, "mark": {"type": "rule", "color": "black", "strokeWidth": 2}, "encoding": {"x": {"field": "z", "type": "quantitative", "scale": {"domain": [-24.9, 25.05], "nice": false, "zero": false}, "axis": {"orient": "top", "values": [-24,-20,-16,-12,-8,-4,0,4,8,12,16,20,24], "labels": false, "title": null}}}},
{"data": {"values": [{"z": 0}]}, "mark": {"type": "rule", "color": "black", "strokeWidth": 2}, "encoding": {"y": {"field": "z", "type": "quantitative", "scale": {"domain": [-450, 445], "nice": false, "zero": false}, "axis": {"orient": "right", "values": [-400,-300,-200,-100,0,100,200,300,400], "labels": false, "title": null}}}},
{"data": {"name": "d"}, "transform": [{"filter": "datum.p == 4"}], "mark": {"type": "line", "strokeWidth": 2.5, "clip": true, "interpolate": "monotone"}, "encoding": {
"x": {"field": "H", "type": "quantitative", "scale": {"domain": [-24.9, 25.05], "nice": false, "zero": false}, "axis": {"orient": "bottom", "values": [-24,-20,-16,-12,-8,-4,0,4,8,12,16,20,24], "labels": false, "title": null}},
"y": {"field": "M", "type": "quantitative", "scale": {"domain": [-450, 445], "nice": false, "zero": false}, "axis": {"orient": "left", "values": [-400,-300,-200,-100,0,100,200,300,400], "labelExpr": "datum.value % 200 === 0 ? '' + datum.value : ''", "title": null}},
"color": {"field": "s", "type": "nominal", "scale": {"domain": ["Perpendicular", "In-plane"], "range": ["#0000ff", "#11ee11"]}, "legend": null},
"detail": {"field": "b"}}},
{"data": {"values": [{"t": "CFO"}]}, "mark": {"type": "text", "font": "Liberation Serif", "fontWeight": "bold", "fontSize": 30, "align": "left", "baseline": "alphabetic", "color": "black"}, "encoding": {"x": {"datum": -23.63, "type": "quantitative", "scale": {"domain": [-24.9, 25.05], "nice": false, "zero": false}, "axis": null}, "y": {"datum": 310, "type": "quantitative", "scale": {"domain": [-450, 445], "nice": false, "zero": false}, "axis": null}, "text": {"field": "t"}}},
{"data": {"values": [{"t": "250("}]}, "mark": {"type": "text", "font": "Liberation Serif", "fontWeight": "bold", "fontSize": 18, "align": "left", "baseline": "alphabetic", "color": "black", "dx": 64, "dy": 13}, "encoding": {"x": {"datum": -23.63, "type": "quantitative", "scale": {"domain": [-24.9, 25.05], "nice": false, "zero": false}, "axis": null}, "y": {"datum": 310, "type": "quantitative", "scale": {"domain": [-450, 445], "nice": false, "zero": false}, "axis": null}, "text": {"field": "t"}}},
{"data": {"values": [{"t": "111"}]}, "mark": {"type": "text", "font": "Liberation Serif", "fontStyle": "italic", "fontSize": 18, "align": "left", "baseline": "alphabetic", "color": "black", "dx": 97, "dy": 13}, "encoding": {"x": {"datum": -23.63, "type": "quantitative", "scale": {"domain": [-24.9, 25.05], "nice": false, "zero": false}, "axis": null}, "y": {"datum": 310, "type": "quantitative", "scale": {"domain": [-450, 445], "nice": false, "zero": false}, "axis": null}, "text": {"field": "t"}}},
{"data": {"values": [{"t": ")"}]}, "mark": {"type": "text", "font": "Liberation Serif", "fontWeight": "bold", "fontSize": 18, "align": "left", "baseline": "alphabetic", "color": "black", "dx": 124, "dy": 13}, "encoding": {"x": {"datum": -23.63, "type": "quantitative", "scale": {"domain": [-24.9, 25.05], "nice": false, "zero": false}, "axis": null}, "y": {"datum": 310, "type": "quantitative", "scale": {"domain": [-450, 445], "nice": false, "zero": false}, "axis": null}, "text": {"field": "t"}}}
],
"resolve": {"axis": {"x": "independent", "y": "independent"}}
},
{
"width": 432, "height": 238,
"layer": [
{"data": {"values": [{"z": 0}]}, "mark": {"type": "rule", "color": "black", "strokeWidth": 2}, "encoding": {"x": {"field": "z", "type": "quantitative", "scale": {"domain": [-24.9, 25.05], "nice": false, "zero": false}, "axis": {"orient": "top", "values": [-24,-20,-16,-12,-8,-4,0,4,8,12,16,20,24], "labels": false, "title": null}}}},
{"data": {"values": [{"z": 0}]}, "mark": {"type": "rule", "color": "black", "strokeWidth": 2}, "encoding": {"y": {"field": "z", "type": "quantitative", "scale": {"domain": [-453, 453], "nice": false, "zero": false}, "axis": {"orient": "right", "values": [-400,-300,-200,-100,0,100,200,300,400], "labels": false, "title": null}}}},
{"data": {"name": "d"}, "transform": [{"filter": "datum.p == 6"}], "mark": {"type": "line", "strokeWidth": 2.5, "clip": true, "interpolate": "monotone"}, "encoding": {
"x": {"field": "H", "type": "quantitative", "scale": {"domain": [-24.9, 25.05], "nice": false, "zero": false}, "axis": {"orient": "bottom", "values": [-24,-20,-16,-12,-8,-4,0,4,8,12,16,20,24], "labelExpr": "datum.value % 8 === 0 ? '' + datum.value : ''", "title": "H (kOe)", "titleFont": "Liberation Serif", "titleFontSize": 33, "titleFontWeight": "normal", "titleY": 76, "titleBaseline": "alphabetic"}},
"y": {"field": "M", "type": "quantitative", "scale": {"domain": [-453, 453], "nice": false, "zero": false}, "axis": {"orient": "left", "values": [-400,-300,-200,-100,0,100,200,300,400], "labelExpr": "datum.value % 200 === 0 ? '' + datum.value : ''", "title": null}},
"color": {"field": "s", "type": "nominal", "scale": {"domain": ["Perpendicular", "In-plane"], "range": ["#0000ff", "#11ee11"]}, "legend": {"title": null, "orient": "bottom-right", "offset": 2, "strokeColor": "black", "fillColor": "white", "padding": 7, "symbolType": "M-2.2,0L2.2,0", "symbolSize": 576, "symbolStrokeWidth": 3, "symbolOffset": 28, "labelFont": "Liberation Sans", "labelFontSize": 20, "labelColor": "black", "labelOffset": 19, "rowPadding": 2}},
"detail": {"field": "b"}}},
{"data": {"values": [{"t": "CFO"}]}, "mark": {"type": "text", "font": "Liberation Serif", "fontWeight": "bold", "fontSize": 30, "align": "left", "baseline": "alphabetic", "color": "black"}, "encoding": {"x": {"datum": -23.5, "type": "quantitative", "scale": {"domain": [-24.9, 25.05], "nice": false, "zero": false}, "axis": null}, "y": {"datum": 309, "type": "quantitative", "scale": {"domain": [-453, 453], "nice": false, "zero": false}, "axis": null}, "text": {"field": "t"}}},
{"data": {"values": [{"t": "375("}]}, "mark": {"type": "text", "font": "Liberation Serif", "fontWeight": "bold", "fontSize": 18, "align": "left", "baseline": "alphabetic", "color": "black", "dx": 64, "dy": 13}, "encoding": {"x": {"datum": -23.5, "type": "quantitative", "scale": {"domain": [-24.9, 25.05], "nice": false, "zero": false}, "axis": null}, "y": {"datum": 309, "type": "quantitative", "scale": {"domain": [-453, 453], "nice": false, "zero": false}, "axis": null}, "text": {"field": "t"}}},
{"data": {"values": [{"t": "Random"}]}, "mark": {"type": "text", "font": "Liberation Serif", "fontStyle": "italic", "fontSize": 18, "align": "left", "baseline": "alphabetic", "color": "black", "dx": 97, "dy": 13}, "encoding": {"x": {"datum": -23.5, "type": "quantitative", "scale": {"domain": [-24.9, 25.05], "nice": false, "zero": false}, "axis": null}, "y": {"datum": 309, "type": "quantitative", "scale": {"domain": [-453, 453], "nice": false, "zero": false}, "axis": null}, "text": {"field": "t"}}},
{"data": {"values": [{"t": ")"}]}, "mark": {"type": "text", "font": "Liberation Serif", "fontWeight": "bold", "fontSize": 18, "align": "left", "baseline": "alphabetic", "color": "black", "dx": 157, "dy": 13}, "encoding": {"x": {"datum": -23.5, "type": "quantitative", "scale": {"domain": [-24.9, 25.05], "nice": false, "zero": false}, "axis": null}, "y": {"datum": 309, "type": "quantitative", "scale": {"domain": [-453, 453], "nice": false, "zero": false}, "axis": null}, "text": {"field": "t"}}}
],
"resolve": {"axis": {"x": "independent", "y": "independent"}}
}
],
"spacing": 0, "bounds": "flush",
"resolve": {"scale": {"color": "independent"}, "legend": {"color": "independent"}}
}
],
"spacing": 14,
"resolve": {"scale": {"color": "independent"}, "legend": {"color": "independent"}},
"config": {
"view": {"stroke": "black", "strokeWidth": 2.5},
"axis": {"domain": false, "grid": false, "ticks": true, "tickColor": "black", "tickWidth": 1.5, "tickSize": -7, "labelFont": "Liberation Sans", "labelFontSize": 21, "labelColor": "black", "labelPadding": 5, "labelOverlap": false, "labelBound": false, "labelFlush": false, "titleColor": "black"}
}
}
